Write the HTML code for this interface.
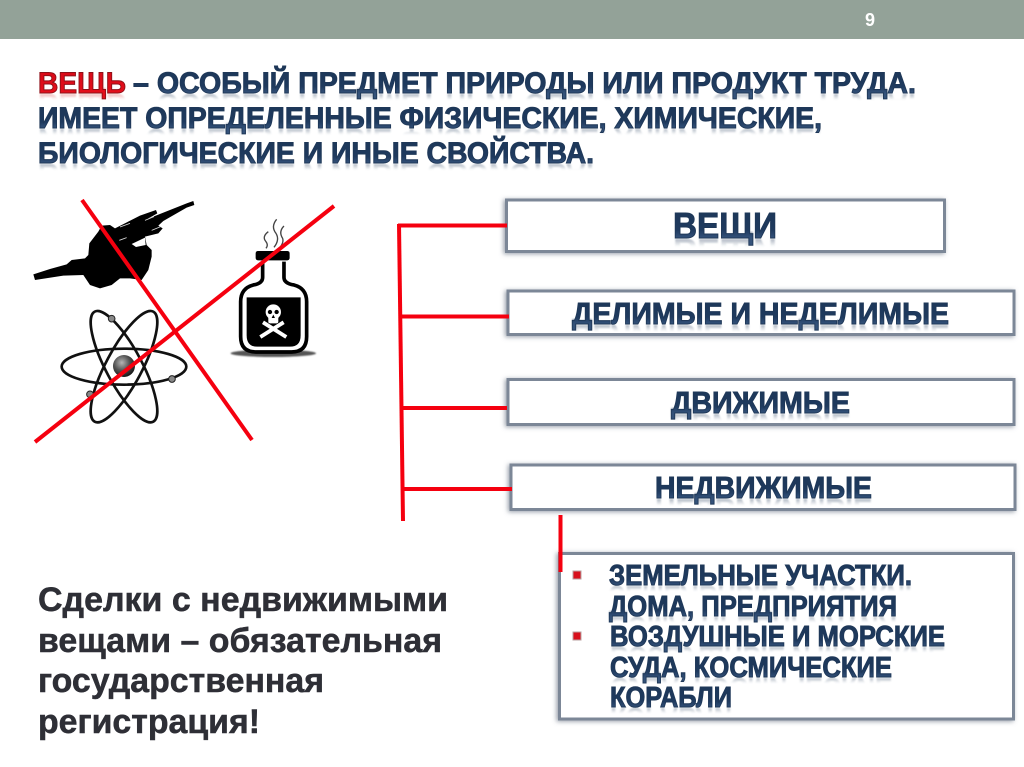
<!DOCTYPE html>
<html lang="ru">
<head>
<meta charset="utf-8">
<title>Вещь</title>
<style>
html,body{margin:0;padding:0;background:#fff;width:1024px;height:767px;overflow:hidden}
svg{display:block;filter:blur(.35px)}
text{font-family:"Liberation Sans",sans-serif;font-weight:bold}
.n{fill:url(#navy);stroke:#1f3858;stroke-width:1}
.r{fill:url(#fade);filter:url(#soft)}
.rr{fill:url(#fadeRed);filter:url(#soft)}
.box{fill:#fff;stroke:#7b8797;stroke-width:3;filter:url(#sh)}
.red{stroke:#f5000f;stroke-width:4;fill:none}
.g{fill:#2e2f36;stroke:#2e2f36;stroke-width:.5}
</style>
</head>
<body>
<svg width="1024" height="767" viewBox="0 0 1024 767" xmlns="http://www.w3.org/2000/svg">
<defs>
<linearGradient id="navy" x1="0" y1="0" x2="0" y2="1">
<stop offset="0" stop-color="#1c3657"/><stop offset=".6" stop-color="#1f3a5e"/><stop offset=".8" stop-color="#34527a"/><stop offset="1" stop-color="#34527a"/>
</linearGradient>
<linearGradient id="redg" x1="0" y1="0" x2="0" y2="1">
<stop offset="0" stop-color="#d60a18"/><stop offset="1" stop-color="#e8101c"/>
</linearGradient>
<linearGradient id="fade" x1="0" y1="0" x2="0" y2="1">
<stop offset="0" stop-color="#3a4f6b" stop-opacity="0"/><stop offset=".62" stop-color="#3a4f6b" stop-opacity="0"/><stop offset=".8" stop-color="#3a4f6b" stop-opacity=".4"/><stop offset="1" stop-color="#3a4f6b" stop-opacity=".5"/>
</linearGradient>
<linearGradient id="fadeRed" x1="0" y1="0" x2="0" y2="1">
<stop offset="0" stop-color="#d03030" stop-opacity="0"/><stop offset=".62" stop-color="#d03030" stop-opacity="0"/><stop offset=".8" stop-color="#d03030" stop-opacity=".35"/><stop offset="1" stop-color="#d03030" stop-opacity=".45"/>
</linearGradient>
<radialGradient id="nuc" cx=".4" cy=".35" r=".7">
<stop offset="0" stop-color="#b5b5b5"/><stop offset=".5" stop-color="#555"/><stop offset="1" stop-color="#111"/>
</radialGradient>
<filter id="soft" x="-5%" y="-20%" width="110%" height="140%"><feGaussianBlur stdDeviation=".7"/></filter>
<filter id="blur2" x="-20%" y="-200%" width="140%" height="500%"><feGaussianBlur stdDeviation="2.2"/></filter>
<filter id="sh" x="-5%" y="-20%" width="110%" height="140%"><feDropShadow dx="-1.5" dy="1" stdDeviation="2.4" flood-color="#5f6b7a" flood-opacity=".65"/></filter>
</defs>

<rect width="1024" height="767" fill="#fff"/>
<rect x="0" y="0" width="1024" height="39" fill="#93a298"/>
<text x="870" y="26" font-size="18" fill="#fff" text-anchor="middle">9</text>

<!-- Title reflections -->
<text class="rr" x="38" y="93" transform="translate(0,187) scale(1,-1)" font-size="30" textLength="88" lengthAdjust="spacingAndGlyphs">ВЕЩЬ</text>
<text class="r" x="133" y="93" transform="translate(0,187) scale(1,-1)" font-size="30" textLength="783" lengthAdjust="spacingAndGlyphs">– ОСОБЫЙ ПРЕДМЕТ ПРИРОДЫ ИЛИ ПРОДУКТ ТРУДА.</text>
<text class="r" x="38" y="128" transform="translate(0,257) scale(1,-1)" font-size="30" textLength="784" lengthAdjust="spacingAndGlyphs">ИМЕЕТ ОПРЕДЕЛЕННЫЕ ФИЗИЧЕСКИЕ, ХИМИЧЕСКИЕ,</text>
<text class="r" x="38" y="163" transform="translate(0,327) scale(1,-1)" font-size="30" textLength="556" lengthAdjust="spacingAndGlyphs">БИОЛОГИЧЕСКИЕ И ИНЫЕ СВОЙСТВА.</text>
<!-- Title -->
<text x="38" y="93" font-size="30" fill="url(#redg)" stroke="#8e1118" stroke-width="1" textLength="88" lengthAdjust="spacingAndGlyphs">ВЕЩЬ</text>
<text class="n" x="133" y="93" font-size="30" textLength="783" lengthAdjust="spacingAndGlyphs">– ОСОБЫЙ ПРЕДМЕТ ПРИРОДЫ ИЛИ ПРОДУКТ ТРУДА.</text>
<text class="n" x="38" y="128" font-size="30" textLength="784" lengthAdjust="spacingAndGlyphs">ИМЕЕТ ОПРЕДЕЛЕННЫЕ ФИЗИЧЕСКИЕ, ХИМИЧЕСКИЕ,</text>
<text class="n" x="38" y="163" font-size="30" textLength="556" lengthAdjust="spacingAndGlyphs">БИОЛОГИЧЕСКИЕ И ИНЫЕ СВОЙСТВА.</text>

<!-- Cannon -->
<g transform="translate(30,195) scale(.3333)">
  <polygon fill="#000" points="10,238 60,222 110,208 125,195 165,190 175,180 178,145 205,110 215,92 240,90 255,100 330,62 378,45 382,55 352,72 470,25 490,18 493,30 470,38 400,78 385,92 398,100 385,115 345,125 350,150 365,165 365,185 355,225 335,255 300,250 270,250 245,270 210,280 180,270 160,240 100,242 15,255"/>
  <polygon fill="#fff" points="305,147 345,128 347,150 318,156"/>
  <g stroke="#ddd" stroke-width="2.5" fill="none">
    <line x1="270" y1="96" x2="300" y2="85"/>
    <line x1="345" y1="76" x2="372" y2="65"/>
    <line x1="268" y1="136" x2="290" y2="128"/>
    <line x1="365" y1="106" x2="392" y2="95"/>
  </g>
</g>

<!-- Icons -->
<g transform="translate(20,190) scale(.3333)">
  <!-- atom -->
  <g fill="none" stroke="#111" stroke-width="8">
    <ellipse cx="312" cy="530" rx="187" ry="54"/>
    <ellipse cx="312" cy="530" rx="187" ry="54" transform="rotate(62 312 530)"/>
    <ellipse cx="312" cy="530" rx="187" ry="54" transform="rotate(-62 312 530)"/>
  </g>
  <circle cx="312" cy="528" r="33" fill="url(#nuc)"/>
  <circle cx="275" cy="386" r="10" fill="#888" stroke="#222" stroke-width="3"/>
  <circle cx="456" cy="567" r="10" fill="#888" stroke="#222" stroke-width="3"/>
  <circle cx="210" cy="613" r="10" fill="#888" stroke="#222" stroke-width="3"/>
  <!-- flask -->
  <ellipse cx="760" cy="490" rx="128" ry="11" fill="#555" filter="url(#blur2)"/>
  <path d="M728 215 V262 Q728 280 700 285 Q662 295 662 335 V440 Q662 486 708 486 H815 Q860 486 860 440 V335 Q860 295 822 285 Q792 280 792 262 V215" fill="#fff" stroke="#000" stroke-width="11"/>
  <path d="M680 322 H842 V436 Q842 470 810 470 H712 Q680 470 680 436 Z" fill="#000"/>
  <rect x="707" y="183" width="102" height="28" rx="7" fill="#000"/>
  <g fill="none" stroke="#444" stroke-width="4">
    <path d="M745 125 Q725 140 738 155 Q746 165 738 175"/>
    <path d="M770 88 Q752 110 768 130 Q780 150 762 172"/>
    <path d="M792 108 Q775 125 788 145 Q792 155 782 170"/>
  </g>
  <!-- skull -->
  <g fill="#fff">
    <circle cx="760" cy="366" r="23"/>
    <rect x="745" y="378" width="30" height="22" rx="5"/>
    <path d="M726 402 L796 446 L802 436 L732 392 Z"/>
    <path d="M794 402 L724 446 L718 436 L788 392 Z"/>
  </g>
  <circle cx="750" cy="366" r="6.5" fill="#000"/>
  <circle cx="770" cy="366" r="6.5" fill="#000"/>
  <path d="M760 374 L755 384 H765 Z" fill="#000"/>
</g>
<line class="red" x1="82" y1="200" x2="252" y2="440"/>
<line class="red" x1="334" y1="206" x2="35" y2="442"/>

<!-- Boxes -->
<rect class="box" x="506.5" y="200" width="438" height="51.5"/>
<rect class="box" x="508" y="291" width="506" height="43.5"/>
<rect class="box" x="508" y="379.5" width="506" height="45"/>
<rect class="box" x="511" y="465" width="504" height="44.5"/>
<rect class="box" x="559.5" y="553.5" width="454" height="165.5"/>

<!-- Connectors -->
<line class="red" x1="399" y1="224" x2="403" y2="521"/>
<line class="red" x1="398" y1="225.5" x2="507" y2="225.5"/>
<line class="red" x1="400" y1="316.5" x2="509" y2="316.5"/>
<line class="red" x1="401" y1="408" x2="507" y2="408"/>
<line class="red" x1="403" y1="489" x2="512" y2="489"/>
<line class="red" x1="560.5" y1="515" x2="560.5" y2="572"/>

<!-- Box label reflections -->
<text class="r" x="673" y="238" transform="translate(0,477) scale(1,-1)" font-size="36" textLength="104" lengthAdjust="spacingAndGlyphs">ВЕЩИ</text>
<text class="r" x="572" y="324" transform="translate(0,649) scale(1,-1)" font-size="31" textLength="377" lengthAdjust="spacingAndGlyphs">ДЕЛИМЫЕ И НЕДЕЛИМЫЕ</text>
<text class="r" x="671" y="413" transform="translate(0,827) scale(1,-1)" font-size="31" textLength="179" lengthAdjust="spacingAndGlyphs">ДВИЖИМЫЕ</text>
<text class="r" x="655" y="498" transform="translate(0,997) scale(1,-1)" font-size="31" textLength="217" lengthAdjust="spacingAndGlyphs">НЕДВИЖИМЫЕ</text>
<!-- Box labels -->
<text class="n" x="673" y="238" font-size="36" textLength="104" lengthAdjust="spacingAndGlyphs">ВЕЩИ</text>
<text class="n" x="572" y="324" font-size="31" textLength="377" lengthAdjust="spacingAndGlyphs">ДЕЛИМЫЕ И НЕДЕЛИМЫЕ</text>
<text class="n" x="671" y="413" font-size="31" textLength="179" lengthAdjust="spacingAndGlyphs">ДВИЖИМЫЕ</text>
<text class="n" x="655" y="498" font-size="31" textLength="217" lengthAdjust="spacingAndGlyphs">НЕДВИЖИМЫЕ</text>

<!-- List reflections -->
<text class="r" x="609" y="585" transform="translate(0,1171) scale(1,-1)" font-size="29" textLength="303" lengthAdjust="spacingAndGlyphs">ЗЕМЕЛЬНЫЕ УЧАСТКИ.</text>
<text class="r" x="609" y="616" transform="translate(0,1233) scale(1,-1)" font-size="29" textLength="288" lengthAdjust="spacingAndGlyphs">ДОМА, ПРЕДПРИЯТИЯ</text>
<text class="r" x="610" y="646" transform="translate(0,1293) scale(1,-1)" font-size="29" textLength="335" lengthAdjust="spacingAndGlyphs">ВОЗДУШНЫЕ И МОРСКИЕ</text>
<text class="r" x="610" y="677" transform="translate(0,1355) scale(1,-1)" font-size="29" textLength="282" lengthAdjust="spacingAndGlyphs">СУДА, КОСМИЧЕСКИЕ</text>
<text class="r" x="610" y="707" transform="translate(0,1415) scale(1,-1)" font-size="29" textLength="122" lengthAdjust="spacingAndGlyphs">КОРАБЛИ</text>
<!-- List -->
<rect x="573" y="571" width="8" height="8" fill="#d8101c" stroke="#b9a0a0" stroke-width="1"/>
<rect x="573" y="632" width="8" height="8" fill="#d8101c" stroke="#b9a0a0" stroke-width="1"/>
<text class="n" x="609" y="585" font-size="29" textLength="303" lengthAdjust="spacingAndGlyphs">ЗЕМЕЛЬНЫЕ УЧАСТКИ.</text>
<text class="n" x="609" y="616" font-size="29" textLength="288" lengthAdjust="spacingAndGlyphs">ДОМА, ПРЕДПРИЯТИЯ</text>
<text class="n" x="610" y="646" font-size="29" textLength="335" lengthAdjust="spacingAndGlyphs">ВОЗДУШНЫЕ И МОРСКИЕ</text>
<text class="n" x="610" y="677" font-size="29" textLength="282" lengthAdjust="spacingAndGlyphs">СУДА, КОСМИЧЕСКИЕ</text>
<text class="n" x="610" y="707" font-size="29" textLength="122" lengthAdjust="spacingAndGlyphs">КОРАБЛИ</text>

<!-- Bottom-left note -->
<text class="g" x="38" y="611" font-size="34" textLength="410" lengthAdjust="spacingAndGlyphs">Сделки с недвижимыми</text>
<text class="g" x="38" y="652" font-size="34" textLength="404" lengthAdjust="spacingAndGlyphs">вещами – обязательная</text>
<text class="g" x="38" y="692" font-size="34" textLength="286" lengthAdjust="spacingAndGlyphs">государственная</text>
<text class="g" x="38" y="733" font-size="34" textLength="222" lengthAdjust="spacingAndGlyphs">регистрация!</text>
</svg>
</body>
</html>
